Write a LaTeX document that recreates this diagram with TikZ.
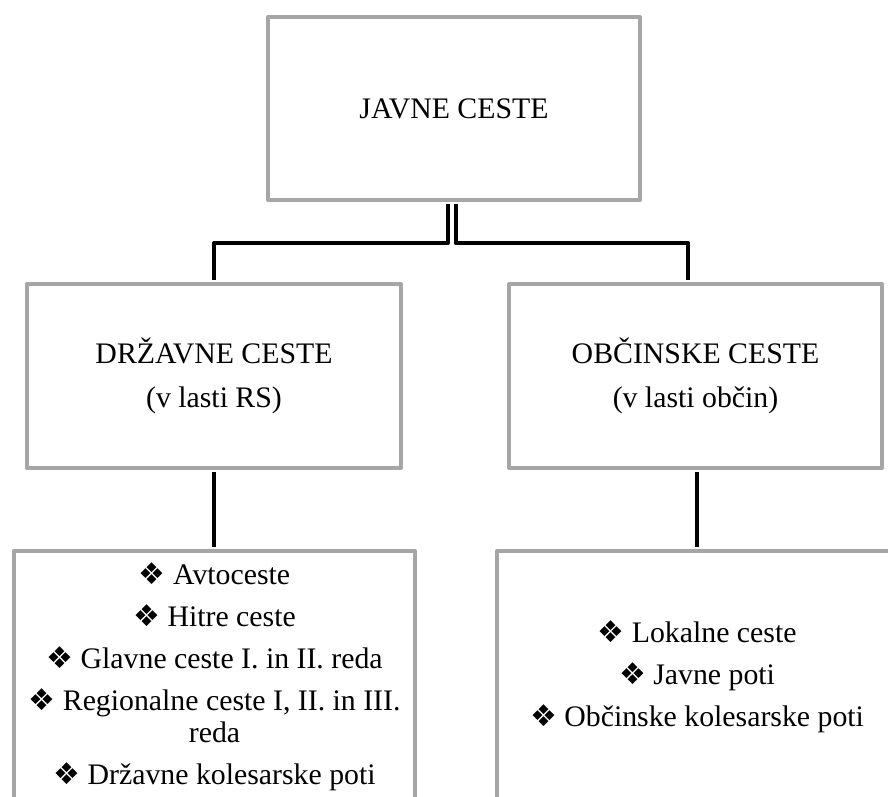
\documentclass[tikz,border=0pt]{standalone}
\usepackage{fontspec}
\setmainfont{Liberation Serif}
\newfontfamily\dingfont{DejaVu Sans}
\definecolor{boxgray}{HTML}{A6A6A6}
\newcommand{\itemmark}{{\dingfont\fontsize{30}{30}\selectfont ❖}\ }
\tikzset{
  box/.style={draw=boxgray, line width=4pt, line join=round, fill=white,
    align=center, inner sep=0pt, font=\fontsize{29.8}{32}\selectfont},
  conn/.style={draw=black, line width=4pt, line join=round,
    shorten <=2pt, shorten >=2pt}
}
\begin{document}
\begin{tikzpicture}[x=1pt, y=1pt]
  \useasboundingbox (0,0) rectangle (888,-796);
  \clip (0,0) rectangle (888,-796);

  % hierarchy boxes
  \node[box, minimum width=372pt, minimum height=183pt] (top) at (454,-108.5) {JAVNE CESTE};
  \node[box, minimum width=374pt, minimum height=184pt] (ml) at (214,-376)
    {DRŽAVNE CESTE\\[12pt](v lasti RS)};
  \node[box, minimum width=373pt, minimum height=184pt] (mr) at (695.5,-376)
    {OBČINSKE CESTE\\[12pt](v lasti občin)};
  \node[box, minimum width=401pt, minimum height=252pt] (bl) at (214.5,-677)
    {\itemmark Avtoceste\\[10pt]
     \itemmark Hitre ceste\\[10pt]
     \itemmark Glavne ceste I. in II. reda\\[10pt]
     \itemmark Regionalne ceste I, II. in III.\\
     reda\\[10pt]
     \itemmark Državne kolesarske poti};
  \node[box, minimum width=400pt, minimum height=252pt] (br) at (697,-677)
    {\itemmark Lokalne ceste\\[10pt]
     \itemmark Javne poti\\[10pt]
     \itemmark Občinske kolesarske poti};

  % connectors
  \coordinate (split) at (0,-243);
  \draw[conn] ([xshift=-6pt]top.south) -- ([xshift=-6pt]top.south |- split) -| (ml.north);
  \draw[conn] ([xshift=1.5pt]top.south) -- ([xshift=1.5pt]top.south |- split) -| ([xshift=-7.5pt]mr.north);
  \draw[conn] (ml.south) -- (ml.south |- bl.north);
  \draw[conn] ([xshift=1.5pt]mr.south) -- ([xshift=1.5pt]mr.south |- br.north);
\end{tikzpicture}
\end{document}
